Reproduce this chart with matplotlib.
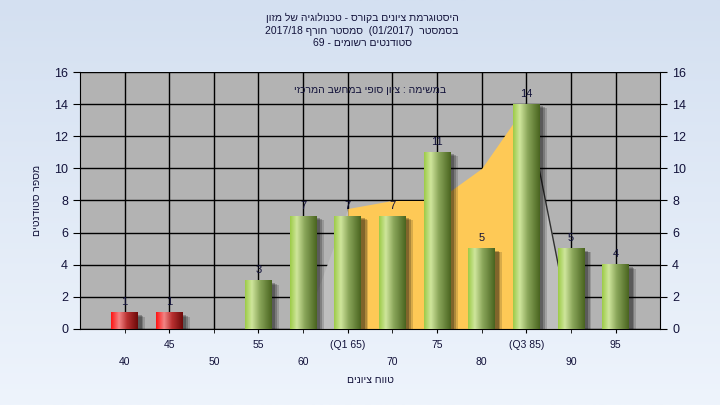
import numpy as np
import matplotlib
matplotlib.use("Agg")
import matplotlib.pyplot as plt
from matplotlib.patches import Rectangle
from matplotlib.colors import LinearSegmentedColormap

plt.rcParams['font.family'] = ['Liberation Sans', 'DejaVu Sans']

# grades (bins) and number of students per bin
grades = [40, 45, 50, 55, 60, 65, 70, 75, 80, 85, 90, 95]
tick_labels = ['40', '45', '50', '55', '60', '(Q1 65)', '70', '75', '80', '(Q3 85)', '90', '95']
counts = [1, 1, 0, 3, 7, 7, 7, 11, 5, 14, 5, 4]
failed = [True, True, False, False, False, False, False, False, False, False, False, False]
# background area series (quartile band)
area_vals = [0, 0, 0, 0, 0, 7.5, 8, 8, 10, 14, 0, 0]

# hebrew text is given in visual (left-to-right) order
title_lines = ['ןוזמ לש היגולונכט - סרוקב םינויצ תמרגוטסיה',
               '2017/18 ףרוח רטסמס  (01/2017)  רטסמסב',
               '69 - םימושר םיטנדוטס']
note = 'יזכרמה בשחמב יפוס ןויצ : המישמב'
xlabel = 'םינויצ חווט'
ylabel = 'םיטנדוטס רפסמ'

txt = '#12123a'

fig = plt.figure(figsize=(7.2, 4.05), dpi=100)

# figure background gradient
bg = fig.add_axes([0, 0, 1, 1], zorder=-10)
grad = np.linspace(0, 1, 256).reshape(-1, 1)
bg_cmap = LinearSegmentedColormap.from_list('bg', ['#d4e0f1', '#eef4fc'])
bg.imshow(grad, aspect='auto', cmap=bg_cmap, extent=(0, 1, 0, 1))
bg.axis('off')

ax = fig.add_axes([0.111, 0.188, 0.806, 0.634])
ax.set_facecolor('#b3b3b3')

x = np.arange(len(grades))

# area band
ax.fill_between(x[4:6], area_vals[4:6], color='#bebebe', lw=0, zorder=2)
ax.fill_between(x[5:10], area_vals[5:10], color='#fec956', lw=0, zorder=2)
ax.fill_between(x[9:11], area_vals[9:11], color='#bebebe', lw=0, zorder=2)
ax.plot(x[9:11], area_vals[9:11], color='#303030', lw=1, zorder=2.5)

green = LinearSegmentedColormap.from_list('g', [(0, '#9dcb48'), (0.25, '#cfe69c'),
                                                (0.55, '#8aa65a'), (1, '#4a6520')])
red = LinearSegmentedColormap.from_list('r', [(0, '#ff1515'), (0.3, '#f28585'),
                                              (0.6, '#b83030'), (1, '#6e0a0a')])
hgrad = np.linspace(0, 1, 64).reshape(1, -1)
w = 0.6
for xi, c, f in zip(x, counts, failed):
    if c == 0:
        continue
    # soft shadow
    for k, a in [(0.16, 0.15), (0.12, 0.2), (0.08, 0.25)]:
        ax.add_patch(Rectangle((xi - w / 2 + k, -0.2), w, c + 0.2 - k * 1.5,
                               color='black', alpha=a, lw=0, zorder=2.8))
    ax.imshow(hgrad, cmap=red if f else green, aspect='auto',
              extent=(xi - w / 2, xi + w / 2, 0, c), zorder=3)
    ax.text(xi, c + 0.35, str(c), ha='center', va='bottom', fontsize=8, color=txt, zorder=4)

ax.set_xlim(-1, len(grades))
ax.set_ylim(0, 16)
ax.set_yticks(range(0, 17, 2))
ax.grid(True, color='black', lw=1, zorder=1)
ax.set_axisbelow(True)

# staggered x tick labels: odd bins on the upper row, even bins lower
ax.set_xticks(x[1::2])
ax.set_xticklabels(tick_labels[1::2])
ax.set_xticks(x[0::2], minor=True)
ax.set_xticklabels(tick_labels[0::2], minor=True)
ax.tick_params(axis='x', which='major', length=3, pad=5, labelsize=7.5, labelcolor=txt)
ax.tick_params(axis='x', which='minor', length=3, pad=17, labelsize=7.5, labelcolor=txt)
ax.xaxis.grid(True, which='minor', color='black', lw=1)
ax.tick_params(axis='y', length=5, labelsize=9, labelcolor=txt,
               left=True, right=True, labelleft=True, labelright=True)

ax.spines['top'].set_visible(False)
for s in ['left', 'right', 'bottom']:
    ax.spines[s].set_color('black')

ax.set_xlabel(xlabel, fontsize=7.5, color=txt, labelpad=6)
ax.set_ylabel(ylabel, fontsize=7.5, color=txt, labelpad=9)

ax.text(0.5, 0.93, note, transform=ax.transAxes, ha='center', va='center',
        fontsize=7.5, color=txt, zorder=5)

for i, line in enumerate(title_lines):
    fig.text(0.503, 1 - (18 + 12.5 * i) / 405, line, ha='center', va='center',
             fontsize=7.5, color=txt)

fig.savefig('out.png', dpi=100)
